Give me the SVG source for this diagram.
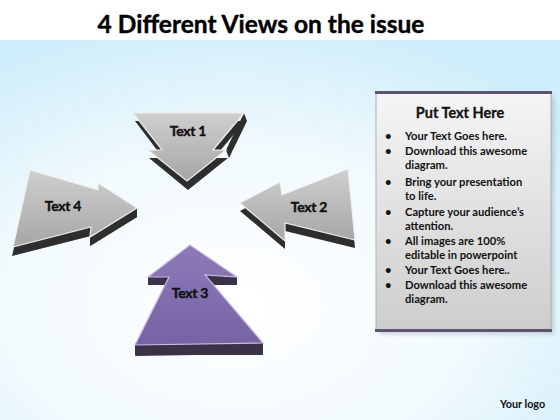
<svg xmlns="http://www.w3.org/2000/svg" width="560" height="420" viewBox="0 0 560 420">
<defs>
<radialGradient id="bg" cx="0.42" cy="0.7" r="0.75">
<stop offset="0" stop-color="#ffffff"/>
<stop offset="0.55" stop-color="#f2fafd"/>
<stop offset="1" stop-color="#cfeefb"/>
</radialGradient>
<linearGradient id="grayFace" x1="0" y1="0" x2="0" y2="1">
<stop offset="0" stop-color="#cfcfcf"/>
<stop offset="1" stop-color="#a6a6a6"/>
</linearGradient>
<linearGradient id="purpleFace" x1="0" y1="0" x2="0" y2="1">
<stop offset="0" stop-color="#8c7ab8"/>
<stop offset="1" stop-color="#7563a5"/>
</linearGradient>
<linearGradient id="panelFill" x1="0" y1="0" x2="0" y2="1">
<stop offset="0" stop-color="#f5f5f5"/>
<stop offset="1" stop-color="#cdcdcd"/>
</linearGradient>
<filter id="shadow" x="-10%" y="-10%" width="130%" height="130%">
<feGaussianBlur stdDeviation="2"/>
</filter>
</defs>
<style>
.title{font-family:Lato,"Liberation Sans",sans-serif;font-weight:bold;font-size:24.5px;fill:#000;stroke:#000;stroke-width:0.4}
.lbl{font-family:Lato,"Liberation Sans",sans-serif;font-weight:bold;font-size:14px;fill:#111;stroke:#111;stroke-width:0.4;text-anchor:middle;letter-spacing:-0.3px}
.side{fill:#2e2e2e}
.gface{fill:url(#grayFace);stroke:#eeeeee;stroke-width:1.2}
.pside{fill:#3a3348}
.pface{fill:url(#purpleFace);stroke:#c9bde6;stroke-width:1.2}
.ptitle{font-family:Lato,"Liberation Sans",sans-serif;font-weight:bold;font-size:14.5px;fill:#111;stroke:#111;stroke-width:0.3;text-anchor:middle}
.body{font-family:Lato,"Liberation Sans",sans-serif;font-weight:bold;font-size:11.2px;fill:#111}
.logo{font-family:Lato,"Liberation Sans",sans-serif;font-weight:bold;font-size:10.8px;fill:#111}
</style>
<rect x="0" y="0" width="560" height="420" fill="#ffffff"/>
<rect x="0" y="40" width="560" height="380" fill="url(#bg)"/>
<text class="title" x="261" y="33" text-anchor="middle">4 Different Views on the issue</text>

<g id="arrow1">
<polygon class="side" points="135,121 245,121 214,158 228,158 188,190 149,158 163,158"/>
<polygon class="side" points="244,113 247,121 229,158 226,150"/>
<polygon class="gface" points="133,113 244,113 213,150 226,150 187,181 148,150 162,150"/>
<text class="lbl" x="188" y="136">Text 1</text>
</g>

<g id="arrow4">
<polygon class="side" points="30,179 98,199 98,192 137,217 90,246 91,236 12,256"/>
<polygon class="side" points="137,208 137,217 90,246 90,237"/>
<polygon class="gface" points="30,170 98,190 98,183 137,208 90,237 91,227 13,247"/>
<text class="lbl" x="63" y="211">Text 4</text>
</g>

<g id="arrow2">
<polygon class="side" points="240,211 280,190 282,203 348,177 355,248 285,231 285,249"/>
<polygon class="gface" points="240,203 280,182 282,195 348,169 355,240 285,223 285,241"/>
<text class="lbl" x="309" y="212">Text 2</text>
</g>

<g id="arrow3">
<polygon class="pside" points="190,253 237,285 206,285 263,354 135,356 169,285 148,285"/>
<rect class="pside" x="135" y="343" width="128" height="12"/>
<polygon class="pside" points="148,277 237,277 237,285 148,285"/>
<polygon class="pface" points="190,245 237,277 205,275 263,343 135,345 169,277 148,277"/>
<text class="lbl" x="190" y="298">Text 3</text>
</g>

<g id="panel">
<rect x="379" y="96" width="175" height="238" fill="#9aa4b8" opacity="0.5" filter="url(#shadow)"/>
<rect x="376" y="93" width="175" height="237" fill="url(#panelFill)" stroke="#b0b0b0" stroke-width="1"/>
<rect x="375" y="91" width="177" height="3" fill="#5e5470"/>
<rect x="375" y="329" width="177" height="3" fill="#5e5470"/>
<text class="ptitle" x="460" y="118">Put Text Here</text>
<g class="body">
<text x="385" y="140">•</text><text x="405" y="140">Your Text Goes here.</text>
<text x="385" y="155">•</text><text x="405" y="155">Download this awesome</text>
<text x="405" y="169">diagram.</text>
<text x="385" y="186">•</text><text x="405" y="186">Bring your presentation</text>
<text x="405" y="200">to life.</text>
<text x="385" y="216">•</text><text x="405" y="216">Capture your audience’s</text>
<text x="405" y="230">attention.</text>
<text x="385" y="245">•</text><text x="405" y="245">All images are 100%</text>
<text x="405" y="259">editable in powerpoint</text>
<text x="385" y="274">•</text><text x="405" y="274">Your Text Goes here..</text>
<text x="385" y="289">•</text><text x="405" y="289">Download this awesome</text>
<text x="405" y="303">diagram.</text>
</g>
</g>
<text class="logo" x="500" y="408">Your logo</text>
</svg>
